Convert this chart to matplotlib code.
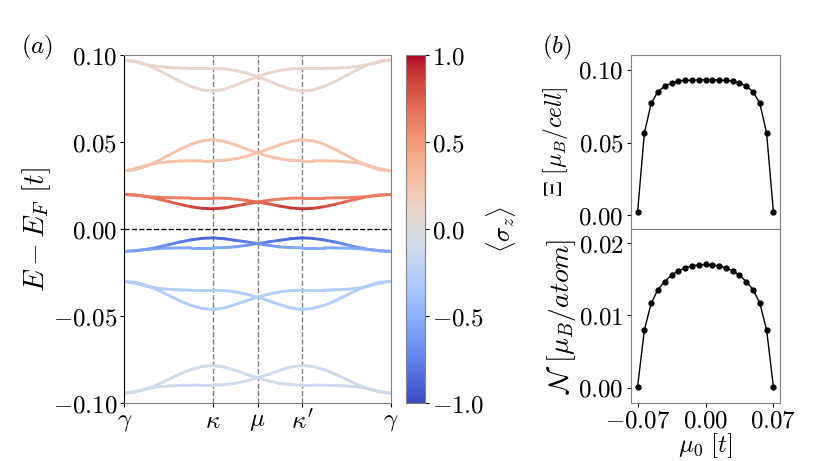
import numpy as np
import matplotlib
matplotlib.use('Agg')
import matplotlib.pyplot as plt
from matplotlib.collections import LineCollection
from matplotlib.ticker import FuncFormatter

plt.rcParams['mathtext.fontset'] = 'cm'
plt.rcParams['font.family'] = ['DejaVu Serif']

# ---------------- data: band structure ----------------
k_ticks = [0.0, 1/3, 1/2, 2/3, 1.0]
k_labels = [r'$\gamma$', r'$\kappa$', r'$\mu$', r"$\kappa'$", r'$\gamma$']

E_g1a = [0.0973, 0.0966, 0.0946, 0.0918, 0.0884, 0.0850, 0.0821, 0.0801, 0.0794,
         0.0805, 0.0827, 0.0853, 0.0877, 0.0898, 0.0913, 0.0922, 0.0925,
         0.0925, 0.0925, 0.0927, 0.0930, 0.0936, 0.0947, 0.0962, 0.0973]
E_g1b = [0.0973, 0.0962, 0.0947, 0.0936, 0.0930, 0.0927, 0.0925, 0.0925, 0.0925,
         0.0922, 0.0913, 0.0898, 0.0877, 0.0853, 0.0827, 0.0805, 0.0794,
         0.0801, 0.0821, 0.0850, 0.0884, 0.0918, 0.0946, 0.0966, 0.0973]
E_g2a = [0.0335, 0.0342, 0.0362, 0.0391, 0.0425, 0.0459, 0.0488, 0.0508, 0.0515,
         0.0505, 0.0485, 0.0461, 0.0439, 0.0419, 0.0405, 0.0396, 0.0394,
         0.0394, 0.0393, 0.0392, 0.0388, 0.0381, 0.0367, 0.0348, 0.0335]
E_g2b = [0.0335, 0.0348, 0.0367, 0.0381, 0.0388, 0.0392, 0.0393, 0.0394, 0.0394,
         0.0396, 0.0405, 0.0419, 0.0439, 0.0461, 0.0485, 0.0505, 0.0515,
         0.0508, 0.0488, 0.0459, 0.0425, 0.0391, 0.0362, 0.0342, 0.0335]
E_g3a = [0.0200, 0.0197, 0.0188, 0.0174, 0.0159, 0.0143, 0.0129, 0.0120, 0.0117,
         0.0122, 0.0133, 0.0145, 0.0156, 0.0166, 0.0173, 0.0178, 0.0179,
         0.0179, 0.0179, 0.0180, 0.0181, 0.0184, 0.0188, 0.0195, 0.0200]
E_g3b = [0.0200, 0.0195, 0.0188, 0.0184, 0.0181, 0.0180, 0.0179, 0.0179, 0.0179,
         0.0178, 0.0173, 0.0166, 0.0156, 0.0145, 0.0133, 0.0122, 0.0117,
         0.0120, 0.0129, 0.0143, 0.0159, 0.0174, 0.0188, 0.0197, 0.0200]
E_g4a = [-0.0128, -0.0125, -0.0116, -0.0104, -0.0089, -0.0074, -0.0062, -0.0053, -0.0050,
         -0.0055, -0.0064, -0.0073, -0.0083, -0.0093, -0.0102, -0.0106, -0.0107,
         -0.0107, -0.0107, -0.0108, -0.0109, -0.0112, -0.0117, -0.0123, -0.0128]
E_g4b = [-0.0128, -0.0123, -0.0117, -0.0112, -0.0109, -0.0108, -0.0107, -0.0107, -0.0107,
         -0.0106, -0.0102, -0.0093, -0.0083, -0.0073, -0.0064, -0.0055, -0.0050,
         -0.0053, -0.0062, -0.0074, -0.0089, -0.0104, -0.0116, -0.0125, -0.0128]
E_g5a = [-0.0300, -0.0306, -0.0324, -0.0350, -0.0381, -0.0412, -0.0438, -0.0456, -0.0462,
         -0.0453, -0.0434, -0.0412, -0.0392, -0.0374, -0.0361, -0.0353, -0.0351,
         -0.0351, -0.0351, -0.0349, -0.0346, -0.0340, -0.0328, -0.0311, -0.0300]
E_g5b = [-0.0300, -0.0311, -0.0328, -0.0340, -0.0346, -0.0349, -0.0351, -0.0351, -0.0351,
         -0.0353, -0.0361, -0.0374, -0.0392, -0.0412, -0.0434, -0.0453, -0.0462,
         -0.0456, -0.0438, -0.0412, -0.0381, -0.0350, -0.0324, -0.0306, -0.0300]
E_g6a = [-0.0943, -0.0937, -0.0919, -0.0894, -0.0864, -0.0833, -0.0808, -0.0790, -0.0784,
         -0.0793, -0.0812, -0.0835, -0.0855, -0.0873, -0.0887, -0.0895, -0.0897,
         -0.0897, -0.0898, -0.0899, -0.0902, -0.0907, -0.0918, -0.0933, -0.0943]
E_g6b = [-0.0943, -0.0933, -0.0918, -0.0907, -0.0902, -0.0899, -0.0898, -0.0897, -0.0897,
         -0.0895, -0.0887, -0.0873, -0.0855, -0.0835, -0.0812, -0.0793, -0.0784,
         -0.0790, -0.0808, -0.0833, -0.0864, -0.0894, -0.0919, -0.0937, -0.0943]

# spin polarisation <sigma_z> along the bands
sz_g1 = 0.10
sz_g2 = 0.26
sz_g3a = [0.62, 0.63, 0.65, 0.68, 0.72, 0.77, 0.83, 0.88, 0.90,
          0.88, 0.83, 0.76, 0.70, 0.66, 0.63, 0.62, 0.62,
          0.62, 0.62, 0.62, 0.62, 0.62, 0.62, 0.62, 0.62]
sz_g3b = sz_g3a[::-1]
sz_g4a = [-0.56, -0.58, -0.62, -0.66, -0.71, -0.77, -0.83, -0.88, -0.90,
          -0.88, -0.83, -0.76, -0.69, -0.63, -0.59, -0.56, -0.55,
          -0.55, -0.55, -0.55, -0.55, -0.55, -0.55, -0.55, -0.56]
sz_g4b = sz_g4a[::-1]
sz_g5 = -0.28
sz_g6 = -0.10

# ---------------- data: magnetisation vs mu0 ----------------
mu0 = [-0.070, -0.063, -0.056, -0.049, -0.042, -0.035, -0.028, -0.021, -0.014, -0.007, 0.000,
       0.007, 0.014, 0.021, 0.028, 0.035, 0.042, 0.049, 0.056, 0.063, 0.070]
Xi = [0.0023, 0.0565, 0.0770, 0.0850, 0.0888, 0.0909, 0.0923, 0.0927, 0.0929, 0.0932, 0.0932,
      0.0932, 0.0929, 0.0927, 0.0923, 0.0909, 0.0888, 0.0850, 0.0770, 0.0565, 0.0023]
Nm = [0.0001, 0.0080, 0.0117, 0.0136, 0.0147, 0.0156, 0.0162, 0.0166, 0.0169, 0.0170, 0.0171,
      0.0170, 0.0169, 0.0166, 0.0162, 0.0156, 0.0147, 0.0136, 0.0117, 0.0080, 0.0001]

# ---------------- figure ----------------
cmap = plt.get_cmap('coolwarm')
norm = matplotlib.colors.Normalize(-1, 1)
FS = 18
spine_c = '#808080'

def mfmt(fmt):
    return FuncFormatter(lambda v, p: '$' + (fmt % v) + '$')

fig = plt.figure(figsize=(8.3, 4.61), dpi=100)
ax = fig.add_axes([0.1498, 0.1258, 0.3209, 0.7542])
kgrid = np.linspace(0.0, 1.0, len(E_g1a))

def band(E, sz):
    pts = np.column_stack([kgrid, E])
    segs = np.stack([pts[:-1], pts[1:]], axis=1)
    if np.ndim(sz) == 0:
        c = [cmap(norm(sz))] * len(segs)
    else:
        s = np.asarray(sz)
        c = cmap(norm(0.5 * (s[:-1] + s[1:])))
    lc = LineCollection(segs, colors=c, linewidths=2.1, capstyle='round', zorder=2)
    ax.add_collection(lc)

band(E_g1a, sz_g1); band(E_g1b, sz_g1)
band(E_g2a, sz_g2); band(E_g2b, sz_g2)
band(E_g3b, sz_g3b); band(E_g3a, sz_g3a)
band(E_g4b, sz_g4b); band(E_g4a, sz_g4a)
band(E_g5a, sz_g5); band(E_g5b, sz_g5)
band(E_g6a, sz_g6); band(E_g6b, sz_g6)

for kt in k_ticks[1:-1]:
    ax.axvline(kt, color='grey', ls='--', lw=1.0, zorder=1)
ax.axhline(0.0, color='black', ls='--', lw=1.0, zorder=3)
ax.set_xlim(0, 1)
ax.set_ylim(-0.1, 0.1)
ax.set_xticks(k_ticks)
ax.set_xticklabels(k_labels, fontsize=FS)
ax.set_yticks([-0.10, -0.05, 0.0, 0.05, 0.10])
ax.yaxis.set_major_formatter(mfmt('%.2f'))
ax.tick_params(labelsize=FS, length=3, pad=2)
ax.set_ylabel(r'$E - E_F\ [t]$', fontsize=21, labelpad=0)
for s in ['top', 'right', 'bottom']:
    ax.spines[s].set_color(spine_c)
ax.spines['left'].set_color('black')

cax = fig.add_axes([0.489, 0.1258, 0.023, 0.7542])
sm = matplotlib.cm.ScalarMappable(norm=norm, cmap=cmap)
cb = fig.colorbar(sm, cax=cax, ticks=[-1, -0.5, 0, 0.5, 1])
cb.ax.yaxis.set_major_formatter(mfmt('%.1f'))
cb.ax.tick_params(labelsize=FS, length=3, pad=2)
cb.outline.set_edgecolor(spine_c)
cb.set_label(r'$\langle\sigma_z\rangle$', fontsize=FS, labelpad=0)

ax1 = fig.add_axes([0.760, 0.5033, 0.180, 0.3767])
ax2 = fig.add_axes([0.760, 0.1265, 0.180, 0.3768], sharex=ax1)
ax1.plot(mu0, Xi, 'k-o', lw=1.0, ms=3.5)
ax2.plot(mu0, Nm, 'k-o', lw=1.0, ms=3.5)
ax1.set_ylim(-0.0095, 0.11)
ax2.set_ylim(-0.0021, 0.022)
ax1.set_yticks([0.0, 0.05, 0.10])
ax2.set_yticks([0.0, 0.01, 0.02])
ax2.set_xticks([-0.07, 0.0, 0.07])
ax1.yaxis.set_major_formatter(mfmt('%.2f'))
ax2.yaxis.set_major_formatter(mfmt('%.2f'))
ax2.xaxis.set_major_formatter(mfmt('%.2f'))
ax1.tick_params(axis='x', which='both', bottom=False, labelbottom=False)
for a in (ax1, ax2):
    a.tick_params(labelsize=FS, length=3, pad=2)
    for s in a.spines.values():
        s.set_color(spine_c)
ax1.set_ylabel(r'$\Xi\ [\mu_B/cell]$', fontsize=17, labelpad=6)
ax2.set_ylabel(r'$\mathcal{N}\ [\mu_B/atom]$', fontsize=20, labelpad=0)
ax2.set_xlabel(r'$\mu_0\ [t]$', fontsize=FS, labelpad=-1)

fig.text(0.0446, 0.898, r'$(a)$', fontsize=FS, ha='center', va='center')
fig.text(0.671, 0.898, r'$(b)$', fontsize=FS, ha='center', va='center')

fig.savefig('out.png', dpi=100)
